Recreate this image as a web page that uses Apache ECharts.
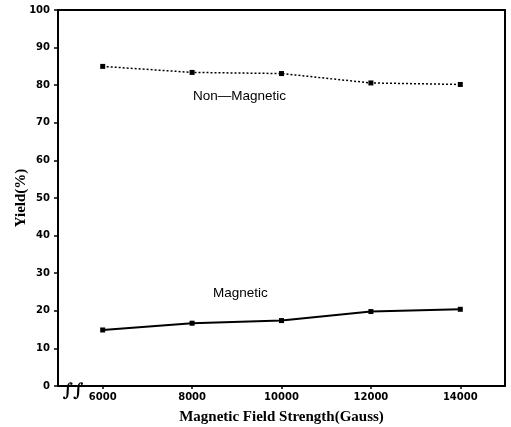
<!DOCTYPE html>
<html>
<head>
<meta charset="utf-8">
<script src="https://cdn.jsdelivr.net/npm/echarts@6/dist/echarts.min.js"></script>
<style>
  html, body { margin: 0; padding: 0; background: #fff; }
  #chart { width: 511px; height: 427px; }
</style>
</head>
<body>
<div id="chart"></div>
<script>
// Field strength (Gauss) and yield (%) of each fraction
const fieldStrength = [6000, 8000, 10000, 12000, 14000];
const nonMagneticYield = [85.0, 83.4, 83.1, 80.6, 80.2];
const magneticYield = [14.9, 16.7, 17.4, 19.8, 20.4];
const xTickValues = [6000, 8000, 10000, 12000, 14000];
const yTickValues = [0, 10, 20, 30, 40, 50, 60, 70, 80, 90, 100];

const chart = echarts.init(document.getElementById('chart'));

const tickFont = { fontFamily: 'DejaVu Sans', fontWeight: 'bold', fontSize: 10, color: '#000' };

chart.setOption({
  animation: false,
  backgroundColor: '#fff',
  grid: {
    left: 58, top: 10, right: 6, bottom: 41,
    outerBoundsMode: 'none',
    containLabel: false,
    show: true, borderColor: '#000', borderWidth: 2, backgroundColor: 'transparent'
  },
  xAxis: {
    type: 'value',
    min: 5000, max: 15000,
    name: 'Magnetic Field Strength(Gauss)',
    nameLocation: 'middle',
    nameGap: 24,
    nameMoveOverlap: false,
    nameTextStyle: { fontFamily: 'Liberation Serif', fontWeight: 'bold', fontSize: 15, color: '#000' },
    axisLine: { show: true, lineStyle: { color: '#000', width: 2 } },
    axisTick: { show: true, customValues: xTickValues, length: 3, lineStyle: { color: '#000', width: 1.5 } },
    axisLabel: Object.assign({ customValues: xTickValues, margin: 6, formatter: v => String(v) }, tickFont),
    splitLine: { show: false }
  },
  yAxis: {
    type: 'value',
    min: 0, max: 100,
    name: 'Yield(%)',
    nameLocation: 'middle',
    nameGap: 29,
    nameMoveOverlap: false,
    nameRotate: 90,
    nameTextStyle: { fontFamily: 'Liberation Serif', fontWeight: 'bold', fontSize: 15, color: '#000' },
    axisLine: { show: true, lineStyle: { color: '#000', width: 2 } },
    axisTick: { show: true, customValues: yTickValues, length: 4, lineStyle: { color: '#000', width: 1.5 } },
    axisLabel: Object.assign({ customValues: yTickValues, margin: 8, formatter: v => String(v) }, tickFont),
    splitLine: { show: false }
  },
  series: [
    {
      name: 'Non-Magnetic',
      type: 'line',
      data: fieldStrength.map((x, i) => [x, nonMagneticYield[i]]),
      symbol: 'rect',
      symbolSize: 5,
      itemStyle: { color: '#000' },
      lineStyle: { color: '#000', width: 1.5, type: [2, 2] },
      label: { show: false }
    },
    {
      name: 'Magnetic',
      type: 'line',
      data: fieldStrength.map((x, i) => [x, magneticYield[i]]),
      symbol: 'rect',
      symbolSize: 5,
      itemStyle: { color: '#000' },
      lineStyle: { color: '#000', width: 2 },
      label: { show: false }
    }
  ],
  graphic: [
    {
      type: 'text', left: 193, top: 89,
      style: { text: 'Non\u2014Magnetic', fontFamily: 'Liberation Sans', fontSize: 13.5, fill: '#000' }
    },
    {
      type: 'text', left: 213, top: 286,
      style: { text: 'Magnetic', fontFamily: 'Liberation Sans', fontSize: 13.5, fill: '#000' }
    },
    {
      // axis break mark near the origin
      type: 'text', x: 73, y: 391,
      style: {
        text: '\u222B\u222B', fontFamily: 'DejaVu Serif', fontSize: 18, fontWeight: 'bold', fill: '#000',
        align: 'center', verticalAlign: 'middle'
      }
    }
  ]
});
</script>
</body>
</html>
